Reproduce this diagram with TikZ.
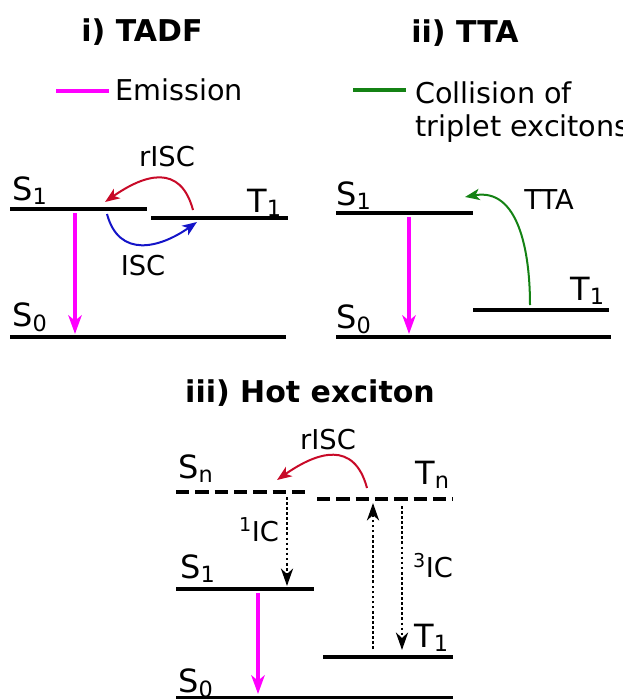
\documentclass[tikz,border=0pt]{standalone}
\usepackage{fontspec}
\setmainfont{DejaVu Sans}
\usetikzlibrary{arrows.meta,positioning}
\definecolor{rcol}{RGB}{200,10,40}
\definecolor{bcol}{RGB}{20,20,200}
\definecolor{gcol}{RGB}{20,130,20}
\definecolor{ecol}{RGB}{255,0,255}

\begin{document}
\begin{tikzpicture}[
  x=0.75pt, y=-0.75pt,
  lvl/.style={line width=2.3pt},
  dlvl/.style={lvl, dash pattern=on 10pt off 4.5pt},
  ttl/.style={font=\fontsize{22.5}{26}\selectfont\bfseries, inner sep=0pt},
  lg/.style={font=\fontsize{21.5}{25}\selectfont, inner sep=0pt},
  st/.style={font=\fontsize{24}{28}\selectfont, anchor=base west, inner sep=0pt},
  pr/.style={font=\fontsize{20.5}{24}\selectfont, inner sep=0pt},
  em/.style={ecol, line width=3.3pt},
  emarr/.style={em, -{Stealth[length=14pt, width=10pt, inset=4pt]}},
  tr/.style={line width=1.5pt, -{Stealth[length=11pt, width=8.5pt, inset=3pt]}},
  ic/.style={line width=2.2pt, dash pattern=on 2pt off 1.8pt, -{Stealth[length=13pt, width=9pt, inset=4pt]}}
]
\useasboundingbox (0,0) rectangle (622,699);

% i) TADF
\node[ttl] (ttlA) at (142,32) {i) TADF};
\coordinate (lgAa) at (56,91);
\coordinate (lgAb) at (109,91);
\draw[em, line width=2.3pt] (lgAa) -- (lgAb);
\node[lg, anchor=base west] (lgA) at (115,100) {Emission};

\coordinate (aS1l) at (10,209);  \coordinate (aS1r) at (147,209);
\coordinate (aT1l) at (151,218); \coordinate (aT1r) at (288,218);
\coordinate (aS0l) at (10,337);  \coordinate (aS0r) at (286,337);
\draw[lvl] (aS1l) -- (aS1r);
\draw[lvl] (aT1l) -- (aT1r);
\draw[lvl] (aS0l) -- (aS0r);
\node[st] (aS1) at (12,200) {S\textsubscript{1}};
\node[st] (aT1) at (247,212) {T\textsubscript{1}};
\node[st] (aS0) at (12,326) {S\textsubscript{0}};

\coordinate (aE0) at (75,213);
\coordinate (aE1) at (75,334);
\draw[emarr] (aE0) -- (aE1);

\coordinate (aR0) at (193,210);
\coordinate (aR1) at (105,202);
\draw[tr, rcol] (aR0) to[out=105, in=35, looseness=1.4] (aR1);
\node[pr] (aRl) at (167,157) {rISC};

\coordinate (aI0) at (107,214);
\coordinate (aI1) at (197,222);
\draw[tr, bcol] (aI0) to[out=-75, in=-145, looseness=1.3] (aI1);
\node[pr] (aIl) at (143,266) {ISC};

% ii) TTA
\node[ttl] (ttlB) at (465,33) {ii) TTA};
\coordinate (lgBa) at (353,90);
\coordinate (lgBb) at (406,90);
\draw[gcol, line width=2.3pt] (lgBa) -- (lgBb);
\node[lg, anchor=north west, align=left] (lgB) at (415,81) {Collision of\\triplet excitons};

\coordinate (bS1l) at (336,213); \coordinate (bS1r) at (473,213);
\coordinate (bT1l) at (473,310); \coordinate (bT1r) at (609,310);
\coordinate (bS0l) at (336,337); \coordinate (bS0r) at (611,337);
\draw[lvl] (bS1l) -- (bS1r);
\draw[lvl] (bT1l) -- (bT1r);
\draw[lvl] (bS0l) -- (bS0r);
\node[st] (bS1) at (336,205) {S\textsubscript{1}};
\node[st] (bT1) at (570,300) {T\textsubscript{1}};
\node[st] (bS0) at (336,328) {S\textsubscript{0}};

\coordinate (bE0) at (409,217);
\coordinate (bE1) at (409,334);
\draw[emarr] (bE0) -- (bE1);

\coordinate (bA0) at (530,305);
\coordinate (bA1) at (465,197);
\draw[tr, gcol] (bA0) to[out=90, in=10, looseness=1.1] (bA1);
\node[pr] (bAl) at (549,200) {TTA};

% iii) Hot exciton
\node[ttl] (ttlC) at (310,393) {iii) Hot exciton};

\coordinate (cSnl) at (176,492); \coordinate (cSnr) at (310,492);
\coordinate (cTnl) at (317,499); \coordinate (cTnr) at (453,499);
\coordinate (cS1l) at (176,589); \coordinate (cS1r) at (314,589);
\coordinate (cT1l) at (323,657); \coordinate (cT1r) at (453,657);
\coordinate (cS0l) at (176,698); \coordinate (cS0r) at (453,698);
\draw[dlvl] (cSnl) -- (cSnr);
\draw[dlvl] (cTnl) -- (cTnr);
\draw[lvl] (cS1l) -- (cS1r);
\draw[lvl] (cT1l) -- (cT1r);
\draw[lvl] (cS0l) -- (cS0r);
\node[st] (cSn) at (178,478) {S\textsubscript{n}};
\node[st] (cTn) at (415,484) {T\textsubscript{n}};
\node[st] (cS1) at (180,578) {S\textsubscript{1}};
\node[st] (cT1) at (414,647) {T\textsubscript{1}};
\node[st] (cS0) at (178,692) {S\textsubscript{0}};

\coordinate (cR0) at (367,488);
\coordinate (cR1) at (277,480);
\draw[tr, rcol] (cR0) to[out=105, in=35, looseness=1.4] (cR1);
\node[pr] (cRl) at (328,440) {rISC};

\coordinate (cI0) at (287,497);
\coordinate (cI1) at (287,586);
\draw[ic] (cI0) -- (cI1);
\node[pr] (cIl) at (259,530) {\textsuperscript{1}IC};

\coordinate (cU0) at (373,649);
\coordinate (cU1) at (373,503);
\draw[ic] (cU0) -- (cU1);

\coordinate (cD0) at (402,506);
\coordinate (cD1) at (402,650);
\draw[ic] (cD0) -- (cD1);
\node[pr] (cDl) at (433,566) {\textsuperscript{3}IC};

\coordinate (cE0) at (258,593);
\coordinate (cE1) at (258,694);
\draw[emarr] (cE0) -- (cE1);
\end{tikzpicture}
\end{document}
